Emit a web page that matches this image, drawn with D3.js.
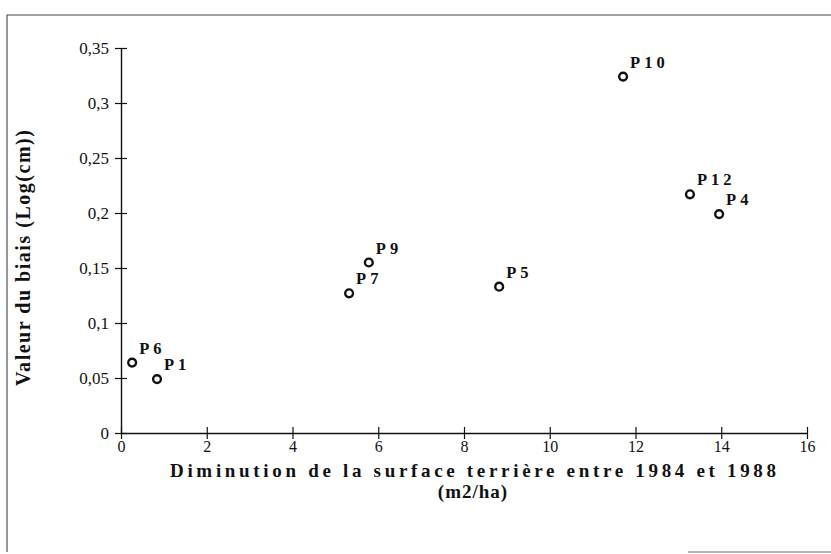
<!DOCTYPE html>
<html>
<head>
<meta charset="utf-8">
<script src="https://cdn.jsdelivr.net/npm/d3@7/dist/d3.min.js"></script>
<style>
  html, body { margin: 0; padding: 0; background: #fff; }
  svg { display: block; }
  svg text { font-family: "Liberation Serif", "Times New Roman", serif; fill: #111; }
</style>
</head>
<body>
<svg id="chart" width="831" height="554"></svg>
<script>
// Plots: decrease of basal area (m2/ha) vs. bias value (Log(cm))
const plots = ["P6", "P1", "P7", "P9", "P5", "P10", "P12", "P4"];
const basalDecrease = [0.26, 0.84, 5.32, 5.78, 8.82, 11.71, 13.27, 13.95];
const biasValue = [0.064, 0.049, 0.127, 0.155, 0.133, 0.324, 0.217, 0.199];

const xTicks = [0, 2, 4, 6, 8, 10, 12, 14, 16];
const yTicks = [0, 0.05, 0.1, 0.15, 0.2, 0.25, 0.3, 0.35];

const xTitle = "Diminution de la surface terrière entre 1984 et 1988";
const xUnit = "(m2/ha)";
const yTitle = "Valeur du biais (Log(cm))";

const SERIF = '"Liberation Serif", "Times New Roman", serif';

const svg = d3.select("#chart");

const x = d3.scaleLinear().domain([0, 16]).range([121, 807]);
const y = d3.scaleLinear().domain([0, 0.35]).range([433, 48]);

const frenchNum = v => String(v).replace(".", ",");

// Outer frame (left and top edges, plus a piece of the bottom edge)
svg.append("path")
  .attr("d", "M7,552 L7,15 L831,15")
  .attr("fill", "none")
  .attr("stroke", "#444")
  .attr("stroke-width", 1.1);
svg.append("line")
  .attr("x1", 688).attr("x2", 831).attr("y1", 552).attr("y2", 552)
  .attr("stroke", "#666").attr("stroke-width", 1);

// Axes: ticks cross the axis line
const xAxis = d3.axisBottom(x).tickValues(xTicks).tickSize(0).tickFormat(frenchNum);
const gx = svg.append("g").attr("transform", `translate(0,${y(0)})`).call(xAxis)
  .attr("font-family", SERIF);
gx.select(".domain").attr("stroke", "#111").attr("stroke-width", 1.4);
gx.selectAll(".tick line").attr("y1", -6).attr("y2", 6).attr("stroke", "#111").attr("stroke-width", 1.2);
gx.selectAll(".tick text")
  .attr("y", 8).attr("dy", "0.71em")
  .style("font-size", "16px");

const yAxis = d3.axisLeft(y).tickValues(yTicks).tickSize(0).tickFormat(frenchNum);
const gy = svg.append("g").attr("transform", `translate(${x(0)},0)`).call(yAxis)
  .attr("font-family", SERIF);
gy.select(".domain").attr("stroke", "#111").attr("stroke-width", 1.4);
gy.selectAll(".tick line").attr("x1", -6).attr("x2", 6).attr("stroke", "#111").attr("stroke-width", 1.2);
gy.selectAll(".tick text")
  .attr("x", -12)
  .style("font-size", "17px");

// Axis titles
svg.append("text")
  .attr("x", 170).attr("y", 477)
  .attr("textLength", 606).attr("lengthAdjust", "spacing")
  .style("font-size", "19px").style("font-weight", "bold")
  .text(xTitle);
svg.append("text")
  .attr("x", 473).attr("y", 498)
  .attr("text-anchor", "middle")
  .style("font-size", "19px").style("font-weight", "bold")
  .style("letter-spacing", "1px")
  .text(xUnit);
svg.append("text")
  .attr("transform", "translate(30,386) rotate(-90)")
  .attr("textLength", 256).attr("lengthAdjust", "spacing")
  .style("font-size", "20px").style("font-weight", "bold")
  .text(yTitle);

// Points
const pts = plots.map((p, i) => ({ name: p, x: basalDecrease[i], y: biasValue[i] }));

svg.append("g").selectAll("circle")
  .data(pts).join("circle")
  .attr("cx", d => x(d.x))
  .attr("cy", d => y(d.y))
  .attr("r", 3.9)
  .attr("fill", "none")
  .attr("stroke", "#111")
  .attr("stroke-width", 2.4);

svg.append("g").selectAll("text")
  .data(pts).join("text")
  .attr("x", d => x(d.x) + 7)
  .attr("y", d => y(d.y) - 9)
  .style("font-size", "16.5px").style("font-weight", "bold")
  .style("letter-spacing", "4px")
  .text(d => d.name);
</script>
</body>
</html>
